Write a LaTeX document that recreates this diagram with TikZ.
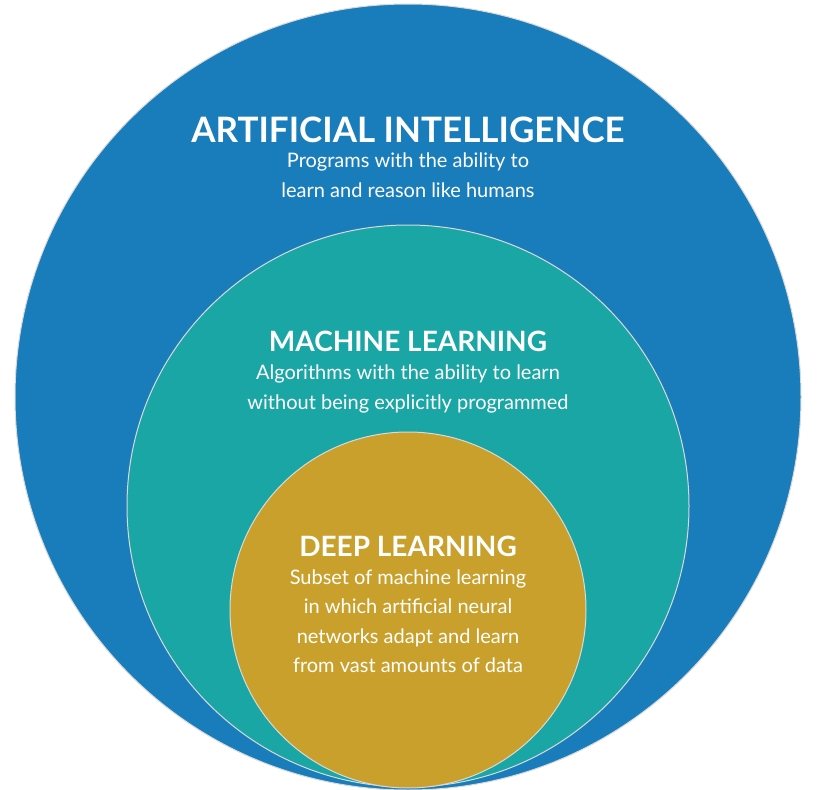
\documentclass[tikz,border=0pt]{standalone}
\usepackage{fontspec}
\setmainfont{Lato}
\definecolor{aiblue}{HTML}{1A7DBB}
\definecolor{mlteal}{HTML}{1BA6A6}
\definecolor{dlgold}{HTML}{C9A02C}
\begin{document}
\begin{tikzpicture}[x=1pt,y=-1pt,
  ring/.style={draw=white!85!black,line width=1pt},
  ttl/.style={text=white,font=\bfseries\fontsize{31}{36}\selectfont,anchor=center},
  sub/.style={text=white,font=\fontsize{20}{30}\selectfont,align=center,anchor=north}]
\useasboundingbox (0,0) rectangle (817,790);
\fill[white] (0,0) rectangle (817,790);
\fill[aiblue,ring] (408,397) circle (393);
\fill[mlteal,ring] (408,506) circle (281);
\fill[dlgold,ring] (408,610) circle (178);
\node[ttl,font=\bfseries\fontsize{35}{40}\selectfont] (ai) at (408,130) {ARTIFICIAL INTELLIGENCE};
\node[sub] (aisub) at (408,149) {Programs with the ability to\\learn and reason like humans};
\node[ttl,font=\bfseries\fontsize{28}{32}\selectfont] (ml) at (408,341) {MACHINE LEARNING};
\node[sub] (mlsub) at (408,361) {Algorithms with the ability to learn\\without being explicitly programmed};
\node[ttl,font=\bfseries\fontsize{28}{32}\selectfont] (dl) at (408,546) {DEEP LEARNING};
\node[sub,font=\fontsize{20}{29.5}\selectfont] (dlsub) at (408,566) {Subset of machine learning\\in which artificial neural\\networks adapt and learn\\from vast amounts of data};
\end{tikzpicture}
\end{document}
